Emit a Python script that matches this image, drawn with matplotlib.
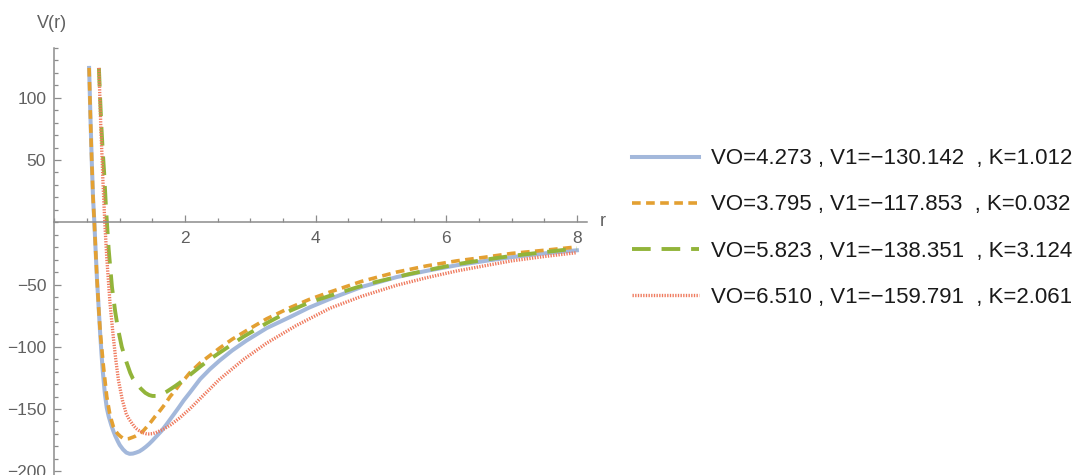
import matplotlib
matplotlib.use('Agg')
import matplotlib.pyplot as plt
from matplotlib.ticker import MultipleLocator

matplotlib.rc('font', family='Liberation Sans')
matplotlib.rc('lines', solid_joinstyle='round', dash_joinstyle='round')

# potential curves V(r), one set of (r, V) samples per parameter choice
r_blue = [0.53, 0.55, 0.57, 0.59, 0.61, 0.63, 0.65, 0.68, 0.70, 0.72, 0.74, 0.77,
          0.80, 0.83, 0.87, 0.90, 0.93, 0.97, 1.00, 1.05, 1.10, 1.15, 1.20, 1.25,
          1.30, 1.35, 1.40, 1.45, 1.50, 1.56, 1.64, 1.72, 1.81, 1.90, 1.98, 2.07,
          2.15, 2.23, 2.38, 2.53, 2.72, 2.94, 3.25, 3.61, 3.90, 4.22, 4.70, 5.24,
          5.70, 6.16, 6.60, 7.00, 7.50, 8.00]
v_blue = [124, 85, 50, 20, 0, -23, -45, -72, -90, -106, -120, -137,
          -149, -156, -163, -167.5, -171.5, -176, -179, -182.5, -185, -186, -185.8, -185,
          -184, -182.3, -180.3, -178, -175.4, -172, -167.5, -162, -155.5, -149, -143, -137,
          -131.5, -126, -118, -111, -103, -95, -85, -76, -68.5, -61.5, -52, -44,
          -39, -34.5, -31, -28, -25, -22.5]

r_orange = [0.53, 0.55, 0.57, 0.59, 0.61, 0.63, 0.65, 0.68, 0.70, 0.75, 0.80, 0.85,
            0.90, 0.94, 0.97, 1.01, 1.05, 1.10, 1.14, 1.18, 1.23, 1.28, 1.36, 1.46,
            1.54, 1.62, 1.70, 1.77, 1.85, 1.92, 2.00, 2.07, 2.15, 2.23, 2.38, 2.53,
            2.72, 2.94, 3.25, 3.61, 3.90, 4.22, 4.70, 5.24, 5.70, 6.16, 6.60, 7.00,
            7.50, 8.00]
v_orange = [124, 85, 50, 20, 0, -23, -45, -72, -88, -116, -140, -155,
            -164, -168, -170, -172, -173.5, -174, -173.8, -173, -172, -170.5, -167.5, -161.5,
            -156, -151, -145.5, -140, -135, -130, -125.5, -121, -117, -113, -107, -101,
            -94, -87, -77.5, -68.5, -62, -56, -47.5, -40, -35, -31, -28, -25,
            -22.5, -19.8]

r_green = [0.68, 0.70, 0.72, 0.74, 0.76, 0.79, 0.83, 0.88, 0.93, 0.97, 1.03, 1.10,
           1.16, 1.20, 1.25, 1.32, 1.39, 1.45, 1.50, 1.55, 1.60, 1.66, 1.72, 1.85,
           1.97, 2.10, 2.23, 2.38, 2.55, 2.72, 2.89, 3.25, 3.61, 3.90, 4.22, 4.80,
           5.44, 5.80, 6.16, 6.60, 7.00, 7.50, 8.00]
v_green = [124, 98, 75, 56, 40, 10, -22, -52, -72, -85, -100, -112,
           -121, -125.5, -129, -133.5, -137, -138.8, -139.5, -139.5, -139, -137.8, -136, -131.5,
           -127, -121.5, -116, -110, -104, -98, -92, -81, -71, -64.5, -59, -49.5,
           -41.5, -37.5, -33.7, -30, -27, -24, -21]

r_red = [0.68, 0.70, 0.71, 0.73, 0.74, 0.77, 0.80, 0.85, 0.90, 0.94, 0.98, 1.04,
         1.10, 1.14, 1.18, 1.22, 1.26, 1.30, 1.35, 1.40, 1.44, 1.50, 1.55, 1.66,
         1.77, 1.92, 2.07, 2.30, 2.53, 2.90, 3.25, 3.70, 4.22, 4.70, 5.24, 5.70,
         6.16, 6.60, 7.00, 7.50, 8.00]
v_red = [124, 92, 75, 50, 35, 0, -28, -65, -92, -111, -127, -143,
         -154, -158, -161, -164, -166, -167.5, -169, -169.8, -170, -169.8, -169, -166.5,
         -163, -157, -150, -138, -126, -110, -97, -83, -69, -59.5, -50.6, -44.5,
         -39.1, -34.8, -31, -27.5, -24.4]

labels = ['VO=4.273 , V1=\u2212130.142  , K=1.012',
          'VO=3.795 , V1=\u2212117.853  , K=0.032',
          'VO=5.823 , V1=\u2212138.351  , K=3.124',
          'VO=6.510 , V1=\u2212159.791  , K=2.061']

fig = plt.figure(figsize=(10.76, 4.75), dpi=100)
ax = fig.add_axes([54.5/1076, 0.0, 532.2/1076, 427/475])

ax.plot(r_blue, v_blue, color='#a3b8db', lw=2.9, label=labels[0])
ax.plot(r_orange, v_orange, color='#e3a032', lw=2.6, dashes=(2.4, 1.5), label=labels[1])
ax.plot(r_green, v_green, color='#92b43a', lw=2.8, dashes=(4.8, 2.8), label=labels[2])
ax.plot(r_red, v_red, color='#ef7a5e', lw=2.4, dashes=(0.4, 0.4), label=labels[3])

ax.set_xlim(0, 8.15)
ax.set_ylim(-203, 140)

axcol = '#8c8c8c'
ax.spines['top'].set_visible(False)
ax.spines['right'].set_visible(False)
ax.spines['bottom'].set_position(('data', 0))
for s in ('left', 'bottom'):
    ax.spines[s].set_color(axcol)
    ax.spines[s].set_linewidth(1.1)

ax.set_xticks([2, 4, 6, 8])
ax.set_yticks([-200, -150, -100, -50, 50, 100])
ax.xaxis.set_minor_locator(MultipleLocator(0.5))
ax.yaxis.set_minor_locator(MultipleLocator(10))
ax.tick_params(which='both', direction='in', color=axcol, labelcolor='#606060',
               labelsize=12.5, width=0.9)
ax.tick_params(which='major', length=5, pad=6)
ax.tick_params(which='minor', length=3)
ax.set_yticklabels(['\u2212200', '\u2212150', '\u2212100', '\u221250', '50', '100'])

fig.text(52/1076, 1 - 23/475, 'V(r)', ha='center', va='center', fontsize=13, color='#606060')
fig.text(603/1076, 1 - 221/475, 'r', ha='center', va='center', fontsize=13, color='#606060')

leg = ax.legend(loc='center left', bbox_to_anchor=(632/1076, 1 - 228/475),
                bbox_transform=fig.transFigure, frameon=False, fontsize=16,
                borderpad=0, borderaxespad=0, handlelength=3.0, handletextpad=0.55,
                labelspacing=1.13)
for t in leg.get_texts():
    t.set_color('#1a1a1a')

plt.savefig('out.png', dpi=100)
plt.close()
